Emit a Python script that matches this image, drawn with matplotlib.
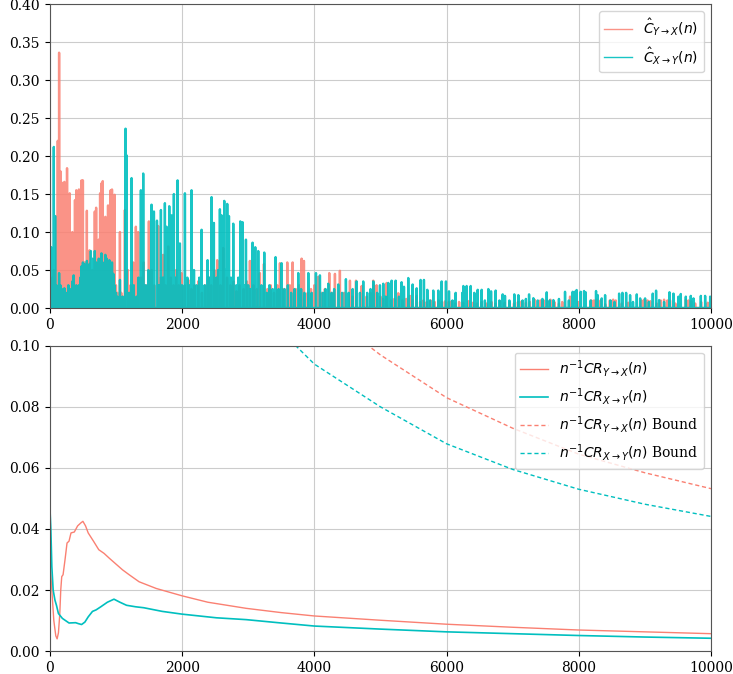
import numpy as np
import matplotlib
matplotlib.use("Agg")
import matplotlib.pyplot as plt

plt.rcParams['font.family'] = 'DejaVu Serif'
plt.rcParams['font.size'] = 10

N = 10000
red_col = 'salmon'
cyan_col = 'c'

# --- top panel: estimated coefficient per step ---
# dense start, one value every 20 steps
head_n = list(range(0, 1101, 20))
red_head = [0.03, 0.02, 0.04, 0.05, 0.03, 0.12, 0.22, 0.336, 0.18, 0.165,
            0.14, 0.166, 0.12, 0.184, 0.149, 0.151, 0.09, 0.10, 0.08, 0.142,
            0.155, 0.13, 0.156, 0.11, 0.168, 0.168, 0.06, 0.04, 0.128, 0.04,
            0.076, 0.03, 0.05, 0.03, 0.127, 0.132, 0.06, 0.09, 0.151, 0.164,
            0.167, 0.08, 0.12, 0.098, 0.135, 0.07, 0.155, 0.156, 0.10, 0.149,
            0.03, 0.02, 0.015, 0.10, 0.02, 0.015]
cyan_head = [0.198, 0.08, 0.04, 0.212, 0.121, 0.03, 0.02, 0.046, 0.03, 0.02,
             0.025, 0.026, 0.015, 0.02, 0.03, 0.02, 0.025, 0.035, 0.043, 0.02,
             0.03, 0.025, 0.03, 0.04, 0.055, 0.06, 0.058, 0.05, 0.062, 0.05,
             0.058, 0.075, 0.065, 0.05, 0.075, 0.06, 0.055, 0.065, 0.05, 0.072,
             0.06, 0.055, 0.07, 0.065, 0.05, 0.063, 0.055, 0.06, 0.045, 0.03,
             0.02, 0.015, 0.012, 0.037, 0.01, 0.015]

# later spikes (step, value)
red_spikes = [
    (1135, 0.129), (1180, 0.05), (1220, 0.03), (1260, 0.06), (1301, 0.107), (1336, 0.10),
    (1380, 0.04), (1420, 0.06), (1460, 0.03), (1498, 0.114), (1540, 0.05), (1580, 0.03),
    (1639, 0.108), (1680, 0.04), (1715, 0.07), (1750, 0.03), (1790, 0.081), (1830, 0.04),
    (1870, 0.03), (1910, 0.05), (1950, 0.03), (1992, 0.046), (2040, 0.03), (2093, 0.037),
    (2140, 0.025), (2190, 0.03), (2244, 0.035), (2300, 0.02), (2350, 0.03), (2396, 0.041),
    (2440, 0.03), (2490, 0.05), (2532, 0.063), (2580, 0.03), (2622, 0.079), (2680, 0.04),
    (2730, 0.03), (2780, 0.035), (2824, 0.022), (2870, 0.03), (2930, 0.025), (2980, 0.035),
    (3026, 0.062), (3080, 0.03), (3130, 0.025), (3177, 0.046), (3238, 0.058), (3290, 0.025),
    (3340, 0.03), (3390, 0.02), (3440, 0.03), (3480, 0.059), (3530, 0.025), (3591, 0.06),
    (3630, 0.03), (3672, 0.06), (3720, 0.025), (3770, 0.03), (3808, 0.065), (3843, 0.062),
    (3900, 0.02), (3950, 0.025), (4000, 0.03), (4060, 0.041), (4110, 0.02), (4160, 0.025),
    (4226, 0.046), (4270, 0.02), (4312, 0.045), (4387, 0.049), (4450, 0.02), (4539, 0.036),
    (4580, 0.015), (4630, 0.036), (4716, 0.029), (4790, 0.015), (4850, 0.02), (4892, 0.036),
    (4942, 0.03), (5000, 0.015), (5040, 0.012), (5094, 0.033), (5160, 0.01), (5210, 0.012),
    (5270, 0.0195), (5330, 0.01), (5390, 0.012), (5446, 0.016), (5490, 0.01), (5548, 0.016),
    (5600, 0.008), (5650, 0.01), (5700, 0.008), (5760, 0.01), (5820, 0.008), (5880, 0.01),
    (5930, 0.008), (5976, 0.0087), (6030, 0.008), (6077, 0.009), (6130, 0.006), (6190, 0.008),
    (6250, 0.007), (6330, 0.009), (6400, 0.007), (6460, 0.006), (6530, 0.008), (6600, 0.006),
    (6680, 0.008), (6740, 0.006), (6809, 0.009), (6880, 0.007), (6950, 0.008), (7020, 0.006),
    (7080, 0.008), (7137, 0.009), (7200, 0.007), (7260, 0.008), (7338, 0.0105), (7420, 0.01),
    (7470, 0.01), (7520, 0.01), (7570, 0.011), (7630, 0.008), (7700, 0.006), (7750, 0.008),
    (7868, 0.015), (7990, 0.008), (8190, 0.01), (8230, 0.01), (8270, 0.011), (8330, 0.01),
    (8400, 0.005), (8470, 0.01), (8520, 0.011), (8560, 0.01), (8650, 0.006), (8750, 0.007),
    (8950, 0.01), (8990, 0.011), (9040, 0.01), (9080, 0.009), (9180, 0.006), (9240, 0.01),
    (9290, 0.011), (9340, 0.01), (9380, 0.01), (9460, 0.006), (9620, 0.011), (9660, 0.01),
    (9700, 0.009), (9760, 0.006), (9850, 0.008), (9950, 0.007),
]
cyan_spikes = [
    (1145, 0.236), (1160, 0.201), (1200, 0.02), (1236, 0.171), (1270, 0.03), (1311, 0.015),
    (1340, 0.04), (1377, 0.155), (1412, 0.177), (1450, 0.03), (1490, 0.05), (1538, 0.136),
    (1574, 0.127), (1620, 0.115), (1650, 0.03), (1680, 0.129), (1710, 0.04), (1740, 0.138),
    (1765, 0.107), (1806, 0.134), (1841, 0.122), (1876, 0.15), (1900, 0.04), (1932, 0.168),
    (1967, 0.085), (2000, 0.03), (2043, 0.151), (2080, 0.04), (2110, 0.03), (2143, 0.155),
    (2180, 0.05), (2220, 0.03), (2260, 0.04), (2295, 0.103), (2340, 0.03), (2386, 0.063),
    (2420, 0.04), (2446, 0.146), (2481, 0.112), (2520, 0.04), (2545, 0.05), (2572, 0.13),
    (2597, 0.122), (2638, 0.141), (2660, 0.05), (2683, 0.137), (2709, 0.121), (2740, 0.04),
    (2774, 0.111), (2820, 0.03), (2850, 0.04), (2880, 0.114), (2915, 0.113), (2940, 0.03),
    (2966, 0.09), (3000, 0.03), (3030, 0.025), (3066, 0.086), (3107, 0.08), (3152, 0.075),
    (3200, 0.03), (3243, 0.073), (3280, 0.02), (3320, 0.03), (3370, 0.025), (3414, 0.067),
    (3460, 0.025), (3505, 0.059), (3550, 0.025), (3600, 0.03), (3650, 0.02), (3700, 0.025),
    (3757, 0.046), (3800, 0.025), (3850, 0.02), (3909, 0.046), (3960, 0.02), (4025, 0.046),
    (4085, 0.043), (4130, 0.02), (4170, 0.025), (4211, 0.032), (4260, 0.02), (4300, 0.025),
    (4362, 0.031), (4420, 0.02), (4478, 0.038), (4520, 0.02), (4580, 0.025), (4640, 0.035),
    (4690, 0.02), (4740, 0.035), (4800, 0.02), (4850, 0.025), (4892, 0.035), (4950, 0.02),
    (4993, 0.03), (5043, 0.032), (5080, 0.015), (5119, 0.033), (5169, 0.036), (5230, 0.036),
    (5280, 0.015), (5320, 0.034), (5356, 0.028), (5421, 0.0395), (5487, 0.031), (5548, 0.026),
    (5608, 0.037), (5658, 0.037), (5709, 0.024), (5750, 0.01), (5799, 0.023), (5875, 0.023),
    (5926, 0.035), (5991, 0.035), (6037, 0.022), (6090, 0.01), (6138, 0.02), (6238, 0.02),
    (6254, 0.029), (6304, 0.029), (6365, 0.029), (6420, 0.02), (6471, 0.024), (6531, 0.024),
    (6580, 0.01), (6632, 0.025), (6673, 0.022), (6743, 0.023), (6800, 0.01), (6849, 0.018),
    (6884, 0.016), (6950, 0.01), (7025, 0.018), (7086, 0.017), (7150, 0.01), (7200, 0.012),
    (7248, 0.018), (7313, 0.013), (7380, 0.01), (7450, 0.012), (7515, 0.0207), (7560, 0.01),
    (7616, 0.0105), (7700, 0.012), (7792, 0.0214), (7850, 0.01), (7908, 0.0214), (7953, 0.0224),
    (7968, 0.0237), (8029, 0.0214), (8080, 0.0224), (8105, 0.0207), (8180, 0.01), (8261, 0.0224),
    (8287, 0.017), (8347, 0.0127), (8398, 0.017), (8480, 0.01), (8540, 0.008), (8610, 0.019),
    (8660, 0.02), (8716, 0.02), (8776, 0.017), (8820, 0.008), (8877, 0.018), (8928, 0.0127),
    (9003, 0.0127), (9060, 0.008), (9119, 0.019), (9169, 0.0229), (9215, 0.0105), (9290, 0.008),
    (9372, 0.0208), (9432, 0.019), (9508, 0.015), (9543, 0.0185), (9619, 0.015), (9694, 0.016),
    (9735, 0.0127), (9846, 0.016), (9911, 0.016), (9987, 0.015),
]

# --- bottom panel: running averages and bounds (step, value) ---
red_cr = [(1, 0.03), (30, 0.02), (60, 0.01), (90, 0.005), (110, 0.004), (130, 0.006),
          (150, 0.012), (165, 0.02), (180, 0.0244), (200, 0.025), (230, 0.03), (260, 0.0354),
          (290, 0.036), (320, 0.0387), (370, 0.039), (420, 0.041), (470, 0.042), (500, 0.0425),
          (540, 0.041), (580, 0.0387), (660, 0.036), (740, 0.0332), (820, 0.032), (900, 0.0304),
          (1000, 0.0285), (1100, 0.0266), (1200, 0.025), (1350, 0.0227), (1610, 0.0205),
          (2000, 0.0181), (2390, 0.016), (2970, 0.014), (3500, 0.0126), (4000, 0.0115),
          (5000, 0.0101), (6000, 0.0088), (7000, 0.0078), (8000, 0.0069), (9000, 0.0063),
          (10000, 0.0057)]
cyan_cr = [(0, 0.0), (5, 0.045), (15, 0.04), (30, 0.0277), (50, 0.02), (77, 0.0167),
           (100, 0.015), (130, 0.0123), (190, 0.0107), (290, 0.0092), (390, 0.0093),
           (430, 0.009), (480, 0.0087), (530, 0.0095), (580, 0.0112), (645, 0.013),
           (700, 0.0135), (770, 0.0145), (870, 0.016), (970, 0.017), (1060, 0.016),
           (1160, 0.015), (1300, 0.0145), (1420, 0.0142), (1700, 0.013), (2000, 0.0121),
           (2520, 0.0109), (2970, 0.0103), (3500, 0.0092), (4000, 0.0082), (5000, 0.0072),
           (6000, 0.0063), (7000, 0.0057), (8000, 0.0051), (9000, 0.0046), (10000, 0.0042)]
red_bound = [(4700, 0.102), (4819, 0.1), (5000, 0.097), (6000, 0.083), (7000, 0.073),
             (8000, 0.0645), (9000, 0.0584), (10000, 0.0532)]
cyan_bound = [(3650, 0.102), (3720, 0.1), (4000, 0.094), (5000, 0.08), (6000, 0.0679),
              (7000, 0.0595), (8000, 0.053), (9000, 0.0481), (10000, 0.0441)]


def build_series(head_vals, spikes):
    y = np.zeros(N)
    y[head_n] = head_vals[:len(head_n)]
    for n, v in spikes:
        y[n] = v
    return y


steps = np.arange(N)
red_series = build_series(red_head, red_spikes)
cyan_series = build_series(cyan_head, cyan_spikes)

fig = plt.figure(figsize=(7.33, 6.74), dpi=100)
ax1 = fig.add_axes([0.068, 0.543, 0.902, 0.451])
ax2 = fig.add_axes([0.068, 0.034, 0.902, 0.453])

ax1.plot(steps, red_series, color=red_col, lw=1.7, alpha=0.85, label=r'$\hat{C}_{Y\to X}(n)$')
ax1.plot(steps, cyan_series, color=cyan_col, lw=1.7, alpha=0.9, label=r'$\hat{C}_{X\to Y}(n)$')
ax1.set_xlim(0, N)
ax1.set_ylim(0, 0.4)
ax1.set_yticks(np.arange(0, 0.41, 0.05))
ax1.grid(True, color='#cccccc', lw=0.8)
leg1 = ax1.legend(loc='upper right', fontsize=10)
for ln in leg1.get_lines():
    ln.set_linewidth(1)

rx, ry = zip(*red_cr)
cx, cy = zip(*cyan_cr)
rbx, rby = zip(*red_bound)
cbx, cby = zip(*cyan_bound)
ax2.plot(rx, ry, color=red_col, lw=1, label=r'$n^{-1}CR_{Y\to X}(n)$')
ax2.plot(cx, cy, color=cyan_col, lw=1.2, label=r'$n^{-1}CR_{X\to Y}(n)$')
ax2.plot(rbx, rby, color=red_col, lw=1, ls=(0, (3, 2)), label=r'$n^{-1}CR_{Y\to X}(n)$ Bound')
ax2.plot(cbx, cby, color=cyan_col, lw=1, ls=(0, (3, 2)), label=r'$n^{-1}CR_{X\to Y}(n)$ Bound')
ax2.set_xlim(0, N)
ax2.set_ylim(0, 0.1)
ax2.set_yticks(np.arange(0, 0.101, 0.02))
ax2.grid(True, color='#cccccc', lw=0.8)
ax2.legend(loc='upper right', fontsize=10)

for ax in (ax1, ax2):
    ax.set_xticks(np.arange(0, N + 1, 2000))
    for s in ax.spines.values():
        s.set_color('#555555')

fig.savefig('out.png', dpi=100)
